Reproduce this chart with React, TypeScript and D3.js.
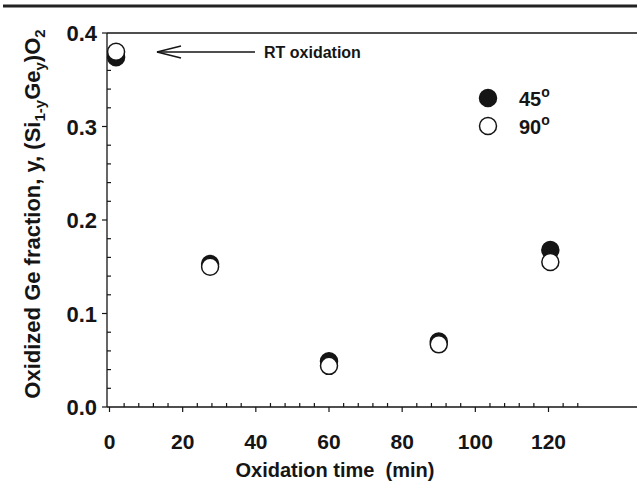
import React, { useEffect, useRef } from 'react';
import * as d3 from 'd3';

const times = [1.8, 27.5, 60, 90, 120.5];
const frac45 = [0.374, 0.153, 0.049, 0.07, 0.168];
const frac90 = [0.38, 0.15, 0.044, 0.067, 0.155];
const xTicks = [0, 20, 40, 60, 80, 100, 120];
const yTicks = [0.0, 0.1, 0.2, 0.3, 0.4];
const legendLabels = ['45', '90'];

const App = () => {
  const svgRef = useRef<SVGSVGElement>(null);

  useEffect(() => {
    const W = 637, H = 488;
    const svg = d3.select(svgRef.current);
    svg.selectAll('*').remove();
    svg.attr('width', W).attr('height', H);

    const font = 'Liberation Sans, Arial, sans-serif';
    const ink = '#151515';
    const left = 107, top = 33, bottom = 407, right = 637;

    const x = d3.scaleLinear().domain([0, 120]).range([109.5, 548.5]);
    const y = d3.scaleLinear().domain([0, 0.4]).range([bottom, top]);

    // journal rule at very top
    svg.append('line').attr('x1', 3).attr('x2', W).attr('y1', 6).attr('y2', 6)
      .attr('stroke', '#222').attr('stroke-width', 3);

    // frame
    svg.append('line').attr('x1', left).attr('x2', right).attr('y1', top).attr('y2', top)
      .attr('stroke', ink).attr('stroke-width', 1.3);
    svg.append('line').attr('x1', left).attr('x2', left).attr('y1', top).attr('y2', bottom)
      .attr('stroke', ink).attr('stroke-width', 1.3);
    svg.append('line').attr('x1', left).attr('x2', right).attr('y1', bottom).attr('y2', bottom)
      .attr('stroke', ink).attr('stroke-width', 1.3);

    // x ticks: majors point down, minors point up
    const xMinor = d3.range(4, 132, 4).filter(v => v % 20 !== 0 && x(v) < right);
    svg.append('g').selectAll('line').data(xMinor).enter().append('line')
      .attr('x1', d => x(d)).attr('x2', d => x(d)).attr('y1', bottom).attr('y2', bottom - 4)
      .attr('stroke', ink).attr('stroke-width', 1.2);
    svg.append('g').selectAll('line').data(xTicks).enter().append('line')
      .attr('x1', d => x(d)).attr('x2', d => x(d)).attr('y1', bottom).attr('y2', bottom + 5)
      .attr('stroke', ink).attr('stroke-width', 1.2);
    svg.append('g').selectAll('text').data(xTicks).enter().append('text')
      .attr('x', d => x(d)).attr('y', 449)
      .attr('text-anchor', 'middle').attr('font-family', font).attr('font-size', 21)
      .attr('font-weight', 'bold').attr('fill', ink).text(d => String(d));

    // y ticks: majors point left, minors point right
    const yMinor = d3.range(0.02, 0.4, 0.02).filter(v => Math.abs(v * 10 - Math.round(v * 10)) > 1e-6);
    svg.append('g').selectAll('line').data(yMinor).enter().append('line')
      .attr('x1', left).attr('x2', left + 4).attr('y1', d => y(d)).attr('y2', d => y(d))
      .attr('stroke', ink).attr('stroke-width', 1.2);
    svg.append('g').selectAll('line').data(yTicks).enter().append('line')
      .attr('x1', left - 5).attr('x2', left).attr('y1', d => y(d)).attr('y2', d => y(d))
      .attr('stroke', ink).attr('stroke-width', 1.2);
    svg.append('g').selectAll('text').data(yTicks).enter().append('text')
      .attr('x', 97).attr('y', d => y(d) + 8)
      .attr('text-anchor', 'end').attr('font-family', font).attr('font-size', 22)
      .attr('font-weight', 'bold').attr('fill', ink).text(d => d.toFixed(1));

    // axis titles
    svg.append('text').attr('x', 335).attr('y', 477).attr('text-anchor', 'middle')
      .attr('font-family', font).attr('font-size', 20).attr('font-weight', 'bold')
      .attr('fill', ink).style('white-space', 'pre')
      .text('Oxidation time  (min)');

    const yl = svg.append('text').attr('transform', 'translate(40,214) rotate(-90)')
      .attr('text-anchor', 'middle').attr('font-family', font).attr('font-size', 22)
      .attr('font-weight', 'bold').attr('fill', ink);
    yl.append('tspan').text('Oxidized Ge fraction, y, (Si');
    yl.append('tspan').attr('font-size', 15).attr('dy', 5).text('1-y');
    yl.append('tspan').attr('dy', -5).text('Ge');
    yl.append('tspan').attr('font-size', 15).attr('dy', 5).text('y');
    yl.append('tspan').attr('dy', -5).text(')O');
    yl.append('tspan').attr('font-size', 15).attr('dy', 5).text('2');

    // points
    const r = 8.5;
    svg.append('g').selectAll('circle').data(times).enter().append('circle')
      .attr('cx', d => x(d)).attr('cy', (d, i) => y(frac45[i])).attr('r', r)
      .attr('fill', ink).attr('stroke', ink).attr('stroke-width', 1.5);
    svg.append('g').selectAll('circle').data(times).enter().append('circle')
      .attr('cx', d => x(d)).attr('cy', (d, i) => y(frac90[i])).attr('r', r)
      .attr('fill', '#fff').attr('stroke', ink).attr('stroke-width', 1.5);

    // RT oxidation annotation
    const ay = 52;
    svg.append('line').attr('x1', 157).attr('x2', 255).attr('y1', ay).attr('y2', ay)
      .attr('stroke', ink).attr('stroke-width', 1.3);
    svg.append('path').attr('d', `M181,${ay - 6} L157,${ay} L181,${ay + 6}`)
      .attr('fill', 'none').attr('stroke', ink).attr('stroke-width', 1.3);
    svg.append('text').attr('x', 264).attr('y', ay + 6).attr('font-family', font)
      .attr('font-size', 16).attr('font-weight', 'bold').attr('fill', ink).text('RT oxidation');

    // legend
    const lg = svg.append('g');
    lg.selectAll('circle').data(legendLabels).enter().append('circle')
      .attr('cx', 488).attr('cy', (d, i) => 98 + i * 28).attr('r', r)
      .attr('fill', (d, i) => (i === 0 ? ink : '#fff')).attr('stroke', ink).attr('stroke-width', 1.5);
    const lt = lg.selectAll('text').data(legendLabels).enter().append('text')
      .attr('x', 519).attr('y', (d, i) => 105.5 + i * 28)
      .attr('font-family', font).attr('font-size', 20).attr('font-weight', 'bold').attr('fill', ink);
    lt.append('tspan').text(d => d);
    lt.append('tspan').attr('font-size', 14).attr('dy', -9).text('o');
  }, []);

  return <svg ref={svgRef} style={{ display: 'block', position: 'absolute', left: 0, top: 0 }}></svg>;
};

export default App;
